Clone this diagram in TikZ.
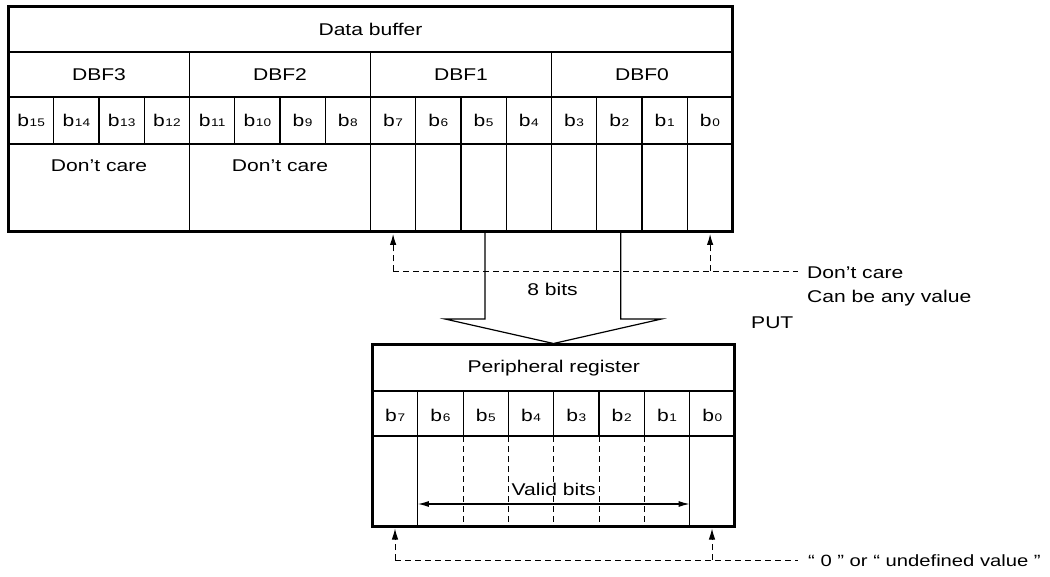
\documentclass[tikz,border=0pt]{standalone}
\usepackage{fontspec}
\setmainfont{Liberation Sans}[FakeStretch=1.24]
\usetikzlibrary{arrows.meta}
\newcommand\bitlab[1]{{\fontsize{17}{18}\selectfont b\kern0.6pt{\fontsize{11}{12}\selectfont #1}}}
\begin{document}
\begin{tikzpicture}[x=1pt,y=-1pt,
  every node/.style={font=\fontsize{17}{20}\selectfont, inner sep=1pt},
  thinline/.style={line width=1.2pt},
  midline/.style={line width=2.6pt},
  outline/.style={line width=3pt},
  dashline/.style={line width=1pt, dash pattern=on 6pt off 4pt},
  tip/.style={-{Latex[length=11pt,width=6.5pt]}},
  bit/.style={anchor=base}]
\useasboundingbox (0,0) rectangle (1050,577);
% ---------- Data buffer ----------
\def\xa{8.5}\def\wa{45.25}
\draw[thinline] (\xa,52) -- (732.5,52);
\draw[thinline] (\xa,97) -- (732.5,97);
\foreach \k in {1,...,15}{
  \draw[thinline] ({\xa+\k*\wa},97) -- ({\xa+\k*\wa},144);
}
\foreach \k in {4,8,...,12}{
  \draw[thinline] ({\xa+\k*\wa},52) -- ({\xa+\k*\wa},232);
}
\foreach \k in {9,10,11,13,14,15}{
  \draw[thinline] ({\xa+\k*\wa},144) -- ({\xa+\k*\wa},232);
}
\draw[midline] (\xa,144) -- (732.5,144);
\draw[outline] (\xa,7) rectangle (732.5,232);
\node (dbtitle) at (370.5,29.5) {Data buffer};
\node (dbf3) at ({\xa+2*\wa},74.5) {DBF3};
\node (dbf2) at ({\xa+6*\wa},74.5) {DBF2};
\node (dbf1) at ({\xa+10*\wa},74.5) {DBF1};
\node (dbf0) at ({\xa+14*\wa},74.5) {DBF0};
\foreach \b in {0,...,15}{
  \node[bit] (db\b) at ({\xa+(15-\b+0.5)*\wa},126.7) {\bitlab{\b}};
}
\node (dc3) at ({\xa+2*\wa},166) {Don’t care};
\node (dc2) at ({\xa+6*\wa},166) {Don’t care};
% ---------- dashed 'don't care' markers ----------
\coordinate (ta) at (393.1,234);
\coordinate (tb) at (710.1,234);
\coordinate (ca) at (393.1,271.5);
\coordinate (cb) at (710.1,271.5);
\coordinate (ce) at (798,271.5);
\draw[dashline,tip] (ca) -- (ta);
\draw[dashline,tip] (cb) -- (tb);
\draw[dashline] (ca) -- (ce);
\node[anchor=west] (dontcare) at (806,273) {Don’t care};
\node[anchor=west] (anyval) at (806,298) {Can be any value};
\node[anchor=west] (put) at (750,323) {PUT};
% ---------- big arrow ----------
\coordinate (s1) at (485,232);
\coordinate (s2) at (620.7,232);
\coordinate (tipc) at (553.5,343.5);
\draw[thinline] (s1) -- (485,319) -- (445,319) -- (tipc) -- (661.5,319) -- (620.7,319) -- (s2);
\node (eight) at (552.5,289) {8 bits};
% ---------- Peripheral register ----------
\def\xb{372.5}\def\wb{45.3}
\draw[thinline] (\xb,391) -- (734.9,391);
\foreach \k in {1,...,7}{
  \draw[thinline] ({\xb+\k*\wb},391) -- ({\xb+\k*\wb},436);
}
\draw[thinline] ({\xb+1*\wb},436) -- ({\xb+1*\wb},526);
\draw[thinline] ({\xb+7*\wb},436) -- ({\xb+7*\wb},526);
\foreach \k in {2,...,6}{
  \draw[dashline] ({\xb+\k*\wb},436) -- ({\xb+\k*\wb},526);
}
\draw[midline] (\xb,436) -- (734.9,436);
\draw[outline] (\xb,345) rectangle (734.9,526);
\node (prtitle) at (553.7,368) {Peripheral register};
\foreach \b in {0,...,7}{
  \node[bit] (pr\b) at ({\xb+(7-\b+0.5)*\wb},421) {\bitlab{\b}};
}
\coordinate (va) at ({\xb+1*\wb},504);
\coordinate (vb) at ({\xb+7*\wb},504);
\draw[thinline,{Latex[length=11pt,width=6pt]}-{Latex[length=11pt,width=6pt]}] (va) -- (vb);
\node[fill=white, inner sep=0.5pt] (valid) at (553.7,489) {Valid bits};
% ---------- bottom dashed markers ----------
\coordinate (ua) at (395,528.5);
\coordinate (ub) at (712,528.5);
\coordinate (da) at (395,560);
\coordinate (dbb) at (712,560);
\coordinate (de) at (798,560);
\draw[dashline,tip] (da) -- (ua);
\draw[dashline,tip] (dbb) -- (ub);
\draw[dashline] (da) -- (de);
\node[anchor=west, font=\fontsize{16.3}{20}\selectfont] (zero) at (807,561) {“ 0 ” or “ undefined value ”};
\end{tikzpicture}
\end{document}
